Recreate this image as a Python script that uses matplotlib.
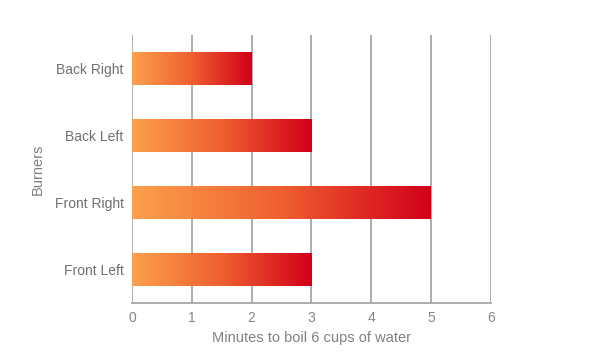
import numpy as np
import matplotlib
matplotlib.use("Agg")
import matplotlib.pyplot as plt
from matplotlib.colors import LinearSegmentedColormap

burners = ["Front Left", "Front Right", "Back Left", "Back Right"]
minutes = [3, 5, 3, 2]

plt.rcParams['font.family'] = ['Liberation Sans', 'DejaVu Sans']
fig = plt.figure(figsize=(6, 3.6), dpi=100)
ax = fig.add_axes([0.22, 0.158, 0.598, 0.745])

cmap = LinearSegmentedColormap.from_list("boil", ["#fca04c", "#ef5f30", "#d2001a"])

bars = ax.barh(burners, minutes, height=0.5, color="none", zorder=3)
grad = np.linspace(0, 1, 256).reshape(1, -1)
for b in bars:
    x0, y0 = b.get_x(), b.get_y()
    im = ax.imshow(grad, cmap=cmap, aspect="auto", zorder=3,
                   extent=[x0, x0 + b.get_width(), y0, y0 + b.get_height()])
    im.set_clip_path(b)

ax.set_xlim(0, 6)
ax.set_ylim(-0.5, 3.5)
ax.set_xticks(range(0, 7))
ax.grid(axis="x", color="#a0a0a0", linewidth=1.2, zorder=0)
ax.set_axisbelow(True)
for s in ["top", "right", "left"]:
    ax.spines[s].set_visible(False)
ax.spines["bottom"].set_color("#a0a0a0")
ax.spines["bottom"].set_linewidth(1.2)
ax.tick_params(length=0, colors="#707070", labelsize=10)
ax.tick_params(axis="x", pad=6, colors="#858585")
ax.tick_params(axis="y", pad=6)
ax.set_xlabel("Minutes to boil 6 cups of water", color="#808080", fontsize=10.5, labelpad=4)
ax.set_ylabel("Burners", color="#808080", fontsize=10.5, labelpad=7)

fig.savefig("out.png")
